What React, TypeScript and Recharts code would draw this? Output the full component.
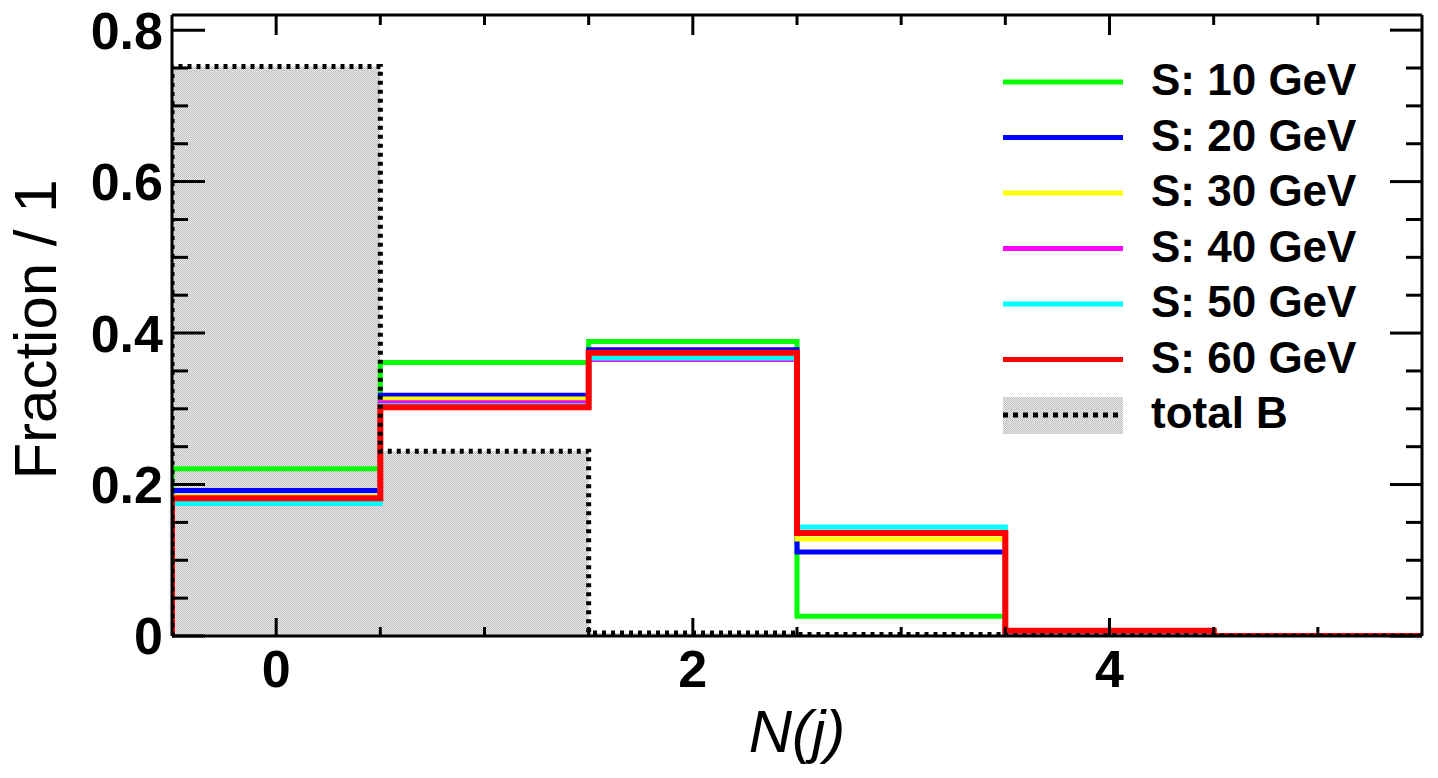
import React from 'react';
import { ComposedChart, Line, Area, XAxis, YAxis, Label } from 'recharts';

// bin centres 0..5, unit width
const binCenters = [0, 1, 2, 3, 4, 5];

const sig10 = [0.221, 0.361, 0.389, 0.026, 0.003, 0.0];
const sig20 = [0.192, 0.318, 0.378, 0.111, 0.002, 0.0];
const sig30 = [0.184, 0.313, 0.371, 0.128, 0.004, 0.0];
const sig40 = [0.18, 0.308, 0.365, 0.137, 0.005, 0.0];
const sig50 = [0.175, 0.304, 0.367, 0.144, 0.006, 0.0];
const sig60 = [0.182, 0.302, 0.374, 0.136, 0.007, 0.0];
const totalB = [0.752, 0.244, 0.004, 0.002, 0.0005, 0.0];

const signals = [
  { key: 's10', name: 'S: 10 GeV', color: '#00ff00', values: sig10 },
  { key: 's20', name: 'S: 20 GeV', color: '#0000ff', values: sig20 },
  { key: 's30', name: 'S: 30 GeV', color: '#ffff00', values: sig30 },
  { key: 's40', name: 'S: 40 GeV', color: '#ff00ff', values: sig40 },
  { key: 's50', name: 'S: 50 GeV', color: '#00ffff', values: sig50 },
  { key: 's60', name: 'S: 60 GeV', color: '#ff0000', values: sig60 },
];

const yMajorTicks = [0, 0.2, 0.4, 0.6, 0.8];
const yTicks = [0, 0.05, 0.1, 0.15, 0.2, 0.25, 0.3, 0.35, 0.4, 0.45, 0.5, 0.55, 0.6, 0.65, 0.7, 0.75, 0.8];
const xMajorTicks = [0, 2, 4];
const xTicks = [0, 0.5, 1, 1.5, 2, 2.5, 3, 3.5, 4, 4.5, 5];

const xDomain = [-0.5, 5.5];
const yDomain = [0, 0.82];

const FONT = '"Liberation Sans", Arial, Helvetica, sans-serif';

const isMajor = (list: number[], v: number) => list.some((m) => Math.abs(m - v) < 1e-6);

// histogram outline: rise at first edge, one point per left edge, close at last edge
const buildRows = () => {
  const series = [...signals.map((s) => ({ key: s.key, values: s.values })), { key: 'bkg', values: totalB }];
  const rows: Record<string, number>[] = [];
  const row = (x: number, pick: (v: number[]) => number) => {
    const r: Record<string, number> = { x };
    series.forEach((s) => (r[s.key] = pick(s.values)));
    return r;
  };
  rows.push(row(binCenters[0] - 0.5, () => 0));
  binCenters.forEach((c, i) => rows.push(row(c - 0.5, (v) => v[i])));
  const last = binCenters.length - 1;
  rows.push(row(binCenters[last] + 0.5, (v) => v[last]));
  rows.push(row(binCenters[last] + 0.5, () => 0));
  return rows;
};

const rows = buildRows();

const frame = { stroke: '#000', strokeWidth: 3 };
const labelStyle = { fill: '#000', fontSize: 52, fontWeight: 'bold' as const, fontFamily: FONT };

// ticks drawn inward from the axis line; tickMargin gives the gap between label and axis
const LeftTick = (p: any) => {
  const v = p.payload.value;
  const major = isMajor(yMajorTicks, v);
  const ax = p.x + 9;
  return (
    <g>
      <line x1={ax} x2={ax + (major ? 33 : 16)} y1={p.y} y2={p.y} stroke="#000" strokeWidth={3} />
      {major && (
        <text x={p.x} y={p.y} dy="0.355em" textAnchor="end" {...labelStyle}>
          {v === 0 ? '0' : v.toFixed(1)}
        </text>
      )}
    </g>
  );
};

const RightTick = (p: any) => {
  const major = isMajor(yMajorTicks, p.payload.value);
  return <line x1={p.x} x2={p.x - (major ? 32 : 16)} y1={p.y} y2={p.y} stroke="#000" strokeWidth={3} />;
};

const BottomTick = (p: any) => {
  const v = p.payload.value;
  const major = isMajor(xMajorTicks, v);
  const ay = p.y - 14;
  return (
    <g>
      <line x1={p.x} x2={p.x} y1={ay} y2={ay - (major ? 18 : 9)} stroke="#000" strokeWidth={3} />
      {major && (
        <text x={p.x} y={p.y} dy="0.71em" textAnchor="middle" {...labelStyle}>
          {String(v)}
        </text>
      )}
    </g>
  );
};

const TopTick = (p: any) => {
  const major = isMajor(xMajorTicks, p.payload.value);
  return <line x1={p.x} x2={p.x} y1={p.y} y2={p.y + (major ? 20 : 10)} stroke="#000" strokeWidth={3} />;
};

const legendRows = [...signals.map((s) => ({ name: s.name, color: s.color, bkg: false })), { name: 'total B', color: '#000', bkg: true }];

const LegendBox = () => (
  <svg width={1438} height={778} style={{ position: 'absolute', left: 0, top: 0, pointerEvents: 'none' }}>
    <defs>
      <pattern id="hatchLeg" width="2" height="2" patternUnits="userSpaceOnUse">
        <rect width="2" height="2" fill="#ececec" />
        <rect width="1" height="1" fill="#bdbdbd" />
        <rect x="1" y="1" width="1" height="1" fill="#bdbdbd" />
      </pattern>
    </defs>
    {legendRows.map((r, i) => {
      const y = 82 + i * 55.5;
      return (
        <g key={r.name}>
          {r.bkg && <rect x={1003} y={y - 18} width={120} height={37} fill="url(#hatchLeg)" />}
          <line
            x1={1003}
            x2={1123}
            y1={y}
            y2={y}
            stroke={r.color}
            strokeWidth={5}
            strokeDasharray={r.bkg ? '5 5' : undefined}
          />
          <text x={1151} y={y + 13} fontSize={44} fontWeight="bold" fontFamily={FONT} fill="#000">
            {r.name}
          </text>
        </g>
      );
    })}
  </svg>
);

export default function App() {
  return (
    <div style={{ position: 'absolute', left: 0, top: 0, width: 1438, height: 778, background: '#fff' }}>
      <ComposedChart width={1438} height={778} data={rows} margin={{ top: 0, right: 0, bottom: 0, left: 0 }}>
        <defs>
          <pattern id="hatch" width="2" height="2" patternUnits="userSpaceOnUse">
            <rect width="2" height="2" fill="#ececec" />
            <rect width="1" height="1" fill="#bdbdbd" />
            <rect x="1" y="1" width="1" height="1" fill="#bdbdbd" />
          </pattern>
        </defs>

        <XAxis xAxisId="x" type="number" dataKey="x" domain={xDomain} allowDataOverflow ticks={xTicks} interval={0}
          height={142} tickLine={false} tickSize={0} tickMargin={14} tick={<BottomTick />} axisLine={frame}>
          <Label
            content={(props: any) => {
              const vb = props.viewBox || { x: 172, y: 636, width: 1250 };
              return (
                <text x={vb.x + vb.width / 2} y={vb.y + 116} textAnchor="middle" fontSize={60} fontStyle="italic" fontFamily={FONT} fill="#000">
                  N(j)
                </text>
              );
            }}
          />
        </XAxis>
        <XAxis xAxisId="xTop" orientation="top" type="number" dataKey="x" domain={xDomain} allowDataOverflow ticks={xTicks} interval={0}
          height={15} tickLine={false} tickSize={0} tickMargin={0} tick={<TopTick />} axisLine={frame} />

        <YAxis yAxisId="y" type="number" domain={yDomain} allowDataOverflow ticks={yTicks} interval={0}
          width={172} tickLine={false} tickSize={0} tickMargin={9} tick={<LeftTick />} axisLine={frame}>
          <Label
            content={(props: any) => {
              const vb = props.viewBox || { x: 0, y: 15, height: 621 };
              const cx = vb.x + 56;
              const cy = vb.y + vb.height / 2 + 4;
              return (
                <text x={cx} y={cy} transform={`rotate(-90 ${cx} ${cy})`} textAnchor="middle" fontSize={60} fontFamily={FONT} fill="#000">
                  Fraction / 1
                </text>
              );
            }}
          />
        </YAxis>
        <YAxis yAxisId="yRight" orientation="right" type="number" domain={yDomain} allowDataOverflow ticks={yTicks} interval={0}
          width={16} tickLine={false} tickSize={0} tickMargin={0} tick={<RightTick />} axisLine={frame} />

        <Area xAxisId="x" yAxisId="y" type="stepAfter" dataKey="bkg" stroke="none" fill="url(#hatch)" fillOpacity={1}
          baseValue={0} isAnimationActive={false} dot={false} activeDot={false} />
        {signals.map((s) => (
          <Line key={s.key} xAxisId="x" yAxisId="y" type="stepAfter" dataKey={s.key} stroke={s.color}
            strokeWidth={s.key === 's60' ? 6 : 5} dot={false} activeDot={false} isAnimationActive={false} />
        ))}
        <Line xAxisId="x" yAxisId="y" type="stepAfter" dataKey="bkg" stroke="#000" strokeWidth={5} strokeDasharray="4 5"
          dot={false} activeDot={false} isAnimationActive={false} />
      </ComposedChart>
      <LegendBox />
    </div>
  );
}
